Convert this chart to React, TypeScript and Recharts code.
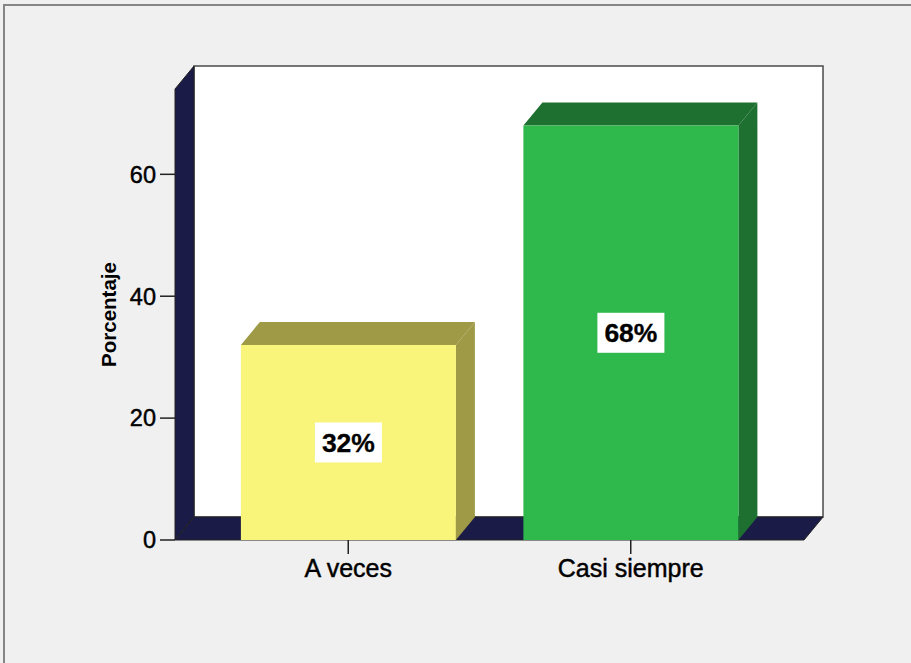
import React from 'react';
import { BarChart, Bar, XAxis, YAxis, ReferenceArea, LabelList } from 'recharts';

const categories = ['A veces', 'Casi siempre'];
const percentages = [32, 68];
const valueLabels = ['32%', '68%'];
const yTicks = [0, 20, 40, 60];
const yMax = 74;

const frontColors = ['#f8f57a', '#2fb84b'];
const shadeColors = ['#9f9a46', '#1d702f'];
const WALL = '#1b1b47';
const FONT = '"Liberation Sans", Arial, Helvetica, sans-serif';

const DX = 19;
const DY = 23;
const PAD_L = 32;
const PAD_R = 32;

const data = categories.map((name, i) => ({ name, value: percentages[i], label: valueLabels[i] }));

const Walls = (props: any) => {
  const { x, y, width, height } = props;
  const L = x - PAD_L;
  const R = x + width + PAD_R;
  const T = y;
  const B = y + height;
  return (
    <g>
      <rect x={L + DX} y={T - DY} width={R - L} height={B - T} fill="#ffffff" stroke="#4a4a4a" strokeWidth={1.5} />
      <polygon
        points={`${L},${B} ${L},${T} ${L + DX},${T - DY} ${L + DX},${B - DY}`}
        fill={WALL}
        stroke="#222"
        strokeWidth={1}
      />
      <polygon
        points={`${L},${B} ${R},${B} ${R + DX},${B - DY} ${L + DX},${B - DY}`}
        fill={WALL}
        stroke="#222"
        strokeWidth={1}
      />
    </g>
  );
};

const Bar3D = (props: any) => {
  const { x, y, width, height, payload } = props;
  const i = categories.indexOf(payload?.name);
  const f = frontColors[i] ?? frontColors[0];
  const s = shadeColors[i] ?? shadeColors[0];
  return (
    <g>
      <polygon points={`${x},${y} ${x + DX},${y - DY} ${x + width + DX},${y - DY} ${x + width},${y}`} fill={s} />
      <polygon
        points={`${x + width},${y} ${x + width + DX},${y - DY} ${x + width + DX},${y + height - DY} ${x + width},${y + height}`}
        fill={s}
      />
      <rect x={x} y={y} width={width} height={height} fill={f} />
    </g>
  );
};

const ValueLabel = (props: any) => {
  const { x, y, width, height, value } = props;
  const cx = x + width / 2;
  const cy = y + height / 2;
  const bw = 67;
  const bh = 40;
  return (
    <g>
      <rect x={cx - bw / 2} y={cy - bh / 2} width={bw} height={bh} fill="#ffffff" />
      <text
        x={cx}
        y={cy}
        dy="0.36em"
        textAnchor="middle"
        fontFamily={FONT}
        fontWeight="bold"
        fontSize={26.5}
        fill="#000"
        stroke="#000"
        strokeWidth={0.3}
      >
        {value}
      </text>
    </g>
  );
};

export default function App() {
  return (
    <div
      style={{
        position: 'fixed',
        left: 0,
        top: 0,
        width: 911,
        height: 663,
        background: '#f0f0f0',
        overflow: 'hidden',
        fontFamily: FONT,
      }}
    >
      <div
        style={{
          position: 'absolute',
          left: 3,
          top: 4,
          width: 1200,
          height: 1200,
          borderTop: '2px solid #858585',
          borderLeft: '2px solid #858585',
        }}
      />
      <div style={{ position: 'absolute', left: 0, top: 0 }}>
        <BarChart
          width={911}
          height={663}
          data={data}
          margin={{ top: 89, right: 107, bottom: 63, left: 0 }}
          barCategoryGap="12%"
        >
          <ReferenceArea y1={0} y2={yMax} shape={<Walls />} ifOverflow="visible" zIndex={-50} />
          <XAxis
            dataKey="name"
            type="category"
            height={60}
            padding={{ left: PAD_L, right: PAD_R }}
            axisLine={false}
            tickLine={{ stroke: '#222', strokeWidth: 1.5 }}
            tickSize={14}
            tickMargin={5}
            tick={{ fill: '#000', fontSize: 25, fontFamily: FONT, stroke: '#000', strokeWidth: 0.45 }}
          />
          <YAxis
            type="number"
            domain={[0, yMax]}
            ticks={yTicks}
            width={175}
            axisLine={false}
            tickLine={{ stroke: '#222', strokeWidth: 1.5 }}
            tickSize={15}
            tickMargin={4}
            tick={{ fill: '#000', fontSize: 23.5, fontFamily: FONT, stroke: '#000', strokeWidth: 0.45 }}
            label={{
              value: 'Porcentaje',
              angle: -90,
              position: 'insideLeft',
              offset: 109,
              style: {
                textAnchor: 'middle',
                fontWeight: 'bold',
                fontSize: 20.5,
                fill: '#000',
                fontFamily: FONT,
              },
            }}
          />
          <Bar dataKey="value" shape={<Bar3D />} isAnimationActive={false}>
            <LabelList dataKey="label" content={<ValueLabel />} />
          </Bar>
        </BarChart>
      </div>
    </div>
  );
}
